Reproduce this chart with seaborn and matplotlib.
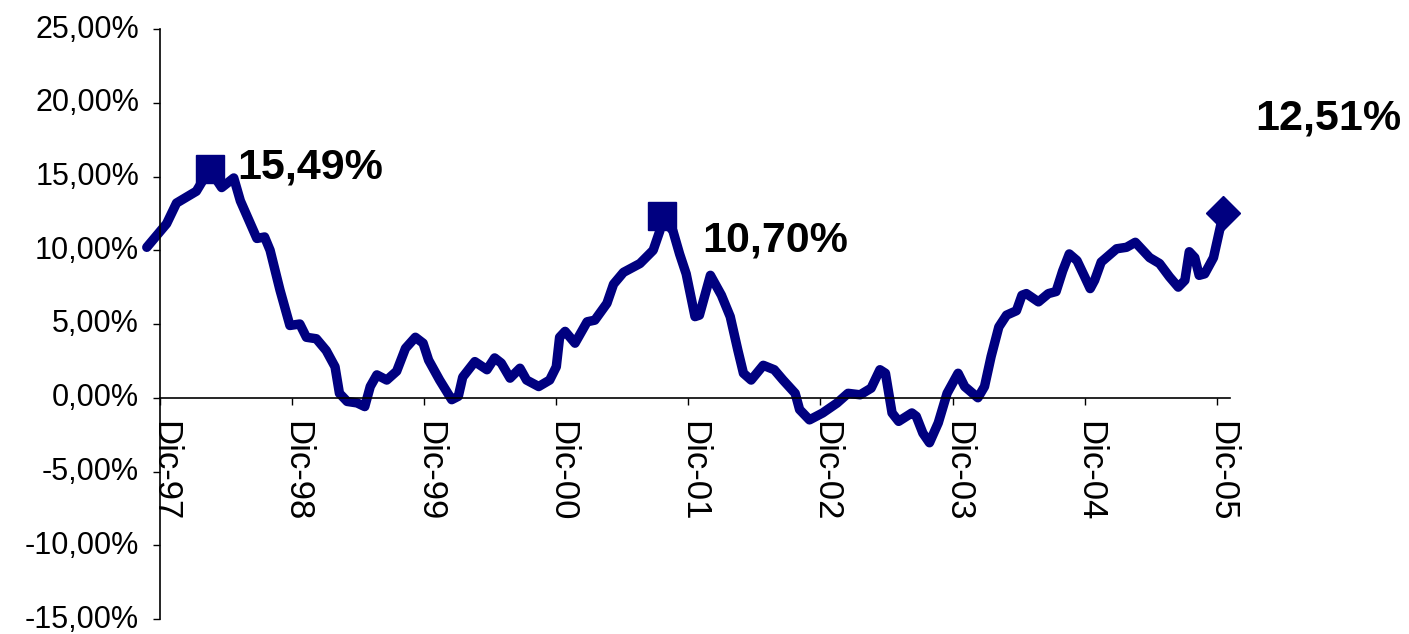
import matplotlib
matplotlib.use("Agg")
import matplotlib.pyplot as plt
import matplotlib.transforms as mtransforms
import seaborn as sns
import pandas as pd
from matplotlib.ticker import FuncFormatter

# --- data: months counted from Dic-97, rate in % ---
month_offset = [-1.2, 0.6, 1.5, 3.3, 4.5, 5.6, 6.7, 7.3, 8.8, 9.5, 10.0, 10.9,
                11.8, 12.7, 13.3, 14.2, 15.1, 15.9, 16.3, 17.0, 17.9, 18.6, 19.1,
                19.7, 20.6, 21.5, 22.3, 23.2, 23.9, 24.4, 25.4, 26.5, 27.1, 27.5,
                28.6, 29.7, 30.4, 31.0, 31.8, 32.7, 33.3, 34.4, 35.4, 36.0, 36.3,
                36.8, 37.7, 38.8, 39.5, 40.6, 41.2, 42.1, 43.6, 44.8, 45.4, 45.6,
                46.6, 47.2, 47.8, 48.6, 49.0, 50.0, 51.0, 51.8, 52.5, 53.0, 53.7,
                54.8, 55.8, 56.6, 57.7, 58.1, 59.0, 60.2, 61.5, 62.5, 63.6, 64.6,
                65.4, 65.9, 66.5, 67.1, 68.3, 68.7, 69.3, 69.9, 70.7, 71.5, 72.5,
                73.1, 74.3, 74.9, 75.5, 76.2, 76.9, 77.8, 78.3, 78.7, 79.8, 80.7,
                81.4, 82.0, 82.6, 83.3, 84.0, 84.5, 84.9, 85.5, 86.9, 87.8, 88.6,
                89.9, 90.8, 91.7, 92.5, 93.1, 93.5, 94.0, 94.4, 94.9, 95.7, 96.6]
rate = [10.2, 11.8, 13.2, 14.0, 15.49, 14.25, 14.9, 13.35, 10.8, 10.9, 10.0, 7.3,
        4.9, 5.0, 4.1, 4.0, 3.2, 2.1, 0.3, -0.25, -0.35, -0.6, 0.76,
        1.55, 1.2, 1.8, 3.35, 4.1, 3.7, 2.55, 1.2, -0.13, 0.1, 1.4,
        2.45, 1.9, 2.7, 2.35, 1.33, 2.0, 1.2, 0.76, 1.2, 2.1, 4.1,
        4.5, 3.7, 5.15, 5.26, 6.4, 7.7, 8.5, 9.1, 10.0, 11.3, 12.3,
        11.3, 9.75, 8.4, 5.5, 5.6, 8.3, 6.95, 5.5, 3.2, 1.66, 1.2,
        2.2, 1.9, 1.2, 0.3, -0.8, -1.5, -1.03, -0.36, 0.3, 0.2, 0.65,
        1.9, 1.66, -1.03, -1.6, -1.03, -1.26, -2.4, -3.05, -1.7, 0.3, 1.66,
        0.76, 0.0, 0.76, 2.8, 4.8, 5.6, 5.9, 6.95, 7.06, 6.5, 7.06,
        7.2, 8.6, 9.75, 9.3, 8.2, 7.4, 7.96, 9.2, 10.1, 10.2, 10.54,
        9.5, 9.1, 8.2, 7.5, 7.96, 9.9, 9.5, 8.3, 8.4, 9.5, 12.51]

peak_months = [4.5, 45.6]
peak_rates = [15.49, 12.3]
peak_labels = ["15,49%", "10,70%"]
last_month = [96.6]
last_rate = [12.51]
last_label = "12,51%"

tick_months = [0, 12, 24, 36, 48, 60, 72, 84, 96]
tick_labels = ["Dic-97", "Dic-98", "Dic-99", "Dic-00", "Dic-01",
               "Dic-02", "Dic-03", "Dic-04", "Dic-05"]
y_ticks = [-15, -10, -5, 0, 5, 10, 15, 20, 25]

df = pd.DataFrame({"month": month_offset, "rate": rate})

sns.set_style("white")
plt.rcParams["font.family"] = ["Liberation Sans", "DejaVu Sans"]
plt.rcParams["text.color"] = "black"
plt.rcParams["xtick.color"] = "black"
plt.rcParams["ytick.color"] = "black"

navy = "#000080"
fig = plt.figure(figsize=(14.09, 6.34), dpi=100)
ax = fig.add_axes([160 / 1409, 15 / 634, 1070 / 1409, 590 / 634])

sns.lineplot(data=df, x="month", y="rate", ax=ax, color=navy, linewidth=6.8,
             sort=False, estimator=None, clip_on=False)
ax.lines[-1].set_solid_joinstyle("round")
ax.lines[-1].set_solid_capstyle("round")

ax.plot(peak_months, peak_rates, linestyle="none", marker="s", markersize=20,
        color=navy, clip_on=False, zorder=5)
ax.plot(last_month, last_rate, linestyle="none", marker="D", markersize=17,
        color=navy, clip_on=False, zorder=5)

# value labels
ax.text(7.0, 15.6, peak_labels[0], fontsize=31, fontweight="bold",
        ha="left", va="center", color="black")
ax.text(49.3, 10.65, peak_labels[1], fontsize=31, fontweight="bold",
        ha="left", va="center", color="black")
ax.text(99.45, 18.95, last_label, fontsize=31, fontweight="bold",
        ha="left", va="center", color="black", clip_on=False)

ax.set_xlim(0, 97.2)
ax.set_ylim(-15, 25)
ax.set_yticks(y_ticks)
ax.yaxis.set_major_formatter(FuncFormatter(lambda v, p: f"{v:.2f}%".replace(".", ",")))
ax.set_xticks(tick_months)
ax.set_xticklabels(tick_labels)

ax.spines["top"].set_visible(False)
ax.spines["right"].set_visible(False)
ax.spines["bottom"].set_position(("data", 0))
for s in ["left", "bottom"]:
    ax.spines[s].set_color("black")
    ax.spines[s].set_linewidth(1.2)

ax.tick_params(axis="y", direction="out", length=5, width=1, color="black",
               labelcolor="black", labelsize=22, pad=10, left=True)
ax.tick_params(axis="x", direction="out", length=5, width=1, color="black",
               labelcolor="black", labelsize=25, pad=12, bottom=True,
               labelrotation=270)
shift_x = mtransforms.ScaledTranslation(5 / 100, 0, fig.dpi_scale_trans)
for lab in ax.get_xticklabels():
    lab.set_va("top")
    lab.set_ha("center")
    lab.set_transform(lab.get_transform() + shift_x)
shift_y = mtransforms.ScaledTranslation(0, 3 / 100, fig.dpi_scale_trans)
for lab in ax.get_yticklabels():
    lab.set_transform(lab.get_transform() + shift_y)

ax.set_xlabel("")
ax.set_ylabel("")
ax.grid(False)
ax.set_facecolor("white")

fig.savefig("out.png", dpi=100, facecolor="white")
